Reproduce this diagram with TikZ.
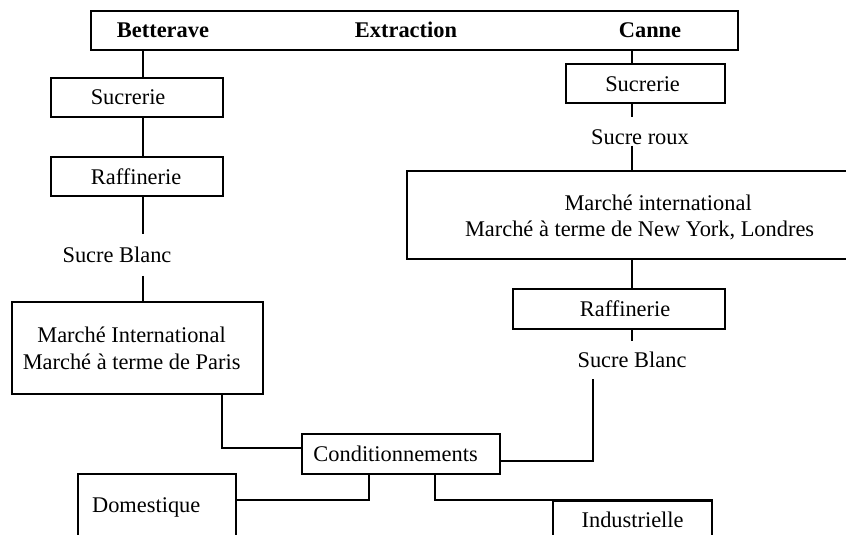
\documentclass[tikz,border=0pt]{standalone}
\usepackage{fontspec}
\setmainfont{Liberation Serif}
\newcommand\fsz{\fontsize{22.4}{27}\selectfont}
\begin{document}
\begin{tikzpicture}[x=1pt,y=-1pt,line width=2.2pt,
  box/.style={draw,line width=2.2pt,rectangle,inner sep=0pt,anchor=north west,font=\fsz},
  txt/.style={inner sep=0pt,font=\fsz},
  hdr/.style={inner sep=0pt,font=\fsz\bfseries}]
\useasboundingbox (0,0) rectangle (846,535);
\clip (0,0) rectangle (846,535);
% axes
\coordinate (axL) at (143,0);
\coordinate (axR) at (632,0);
\coordinate (axM) at (222,0);
\coordinate (axS) at (593,0);
\coordinate (axA) at (369,0);
\coordinate (axB) at (435,0);
% top bar
\node[box,minimum width=647,minimum height=39] (top) at (90,10) {};
\node[hdr] (bet) at (163,30) {Betterave};
\node[hdr] (ext) at (406,30) {Extraction};
\node[hdr] (can) at (650,30) {Canne};
% left column
\node[box,minimum width=172,minimum height=39,label={[txt,xshift=-9pt]center:Sucrerie}] (sucL) at (50,77) {};
\node[box,minimum width=172,minimum height=39,label={[txt,xshift=-1pt]center:Raffinerie}] (rafL) at (50,156) {};
\node[txt,inner ysep=12pt] (sbL) at (117,255) {Sucre Blanc};
\node[box,minimum width=251,minimum height=92,label={[txt,align=center,xshift=-6pt]center:Marché International\\Marché à terme de Paris}] (marL) at (11,301) {};
% right column
\node[box,minimum width=159,minimum height=39,label={[txt,xshift=-3pt,yshift=-1pt]center:Sucrerie}] (sucR) at (565,63) {};
\node[txt] (sroux) at (640,137) {Sucre roux};
\node[box,minimum width=494,minimum height=88,
  label={[txt,xshift=4pt,yshift=12pt]center:Marché international},
  label={[txt,xshift=-14.5pt,yshift=-15pt]center:Marché à terme de New York, Londres}] (marR) at (406,170) {};
\node[box,minimum width=212,minimum height=40,label={[txt,xshift=6pt]center:Raffinerie}] (rafR) at (512,288) {};
\node[txt,inner ysep=10.5pt] (sbR) at (632,360) {Sucre Blanc};
% bottom
\node[box,minimum width=198,minimum height=40,label={[txt,xshift=-5.5pt]center:Conditionnements}] (cond) at (301,433) {};
\node[box,minimum width=158,minimum height=127,label={[txt,anchor=west,xshift=14pt,yshift=-34pt]north west:Domestique}] (dom) at (77,473) {};
\node[box,minimum width=159,minimum height=100,label={[txt,anchor=center,yshift=-20pt]north:Industrielle}] (ind) at (552,500) {};
% helper coordinates
\coordinate (srtop) at ([yshift=11.5pt]sroux.north);
\coordinate (condin) at ([yshift=6pt]cond.west);
\coordinate (condout) at ([yshift=-7pt]cond.east);
\coordinate (domin) at ([yshift=-27pt]dom.north east);
% connectors left
\draw (top.south -| axL) -- (sucL.north -| axL);
\draw (sucL.south -| axL) -- (rafL.north -| axL);
\draw (rafL.south -| axL) -- (sbL.north -| axL);
\draw (sbL.south -| axL) -- (marL.north -| axL);
\draw (marL.south -| axM) |- (condin);
% connectors right
\draw (top.south -| axR) -- (sucR.north -| axR);
\draw (sucR.south -| axR) -- (srtop -| axR);
\draw (sroux.south -| axR) -- (marR.north -| axR);
\draw (marR.south -| axR) -- (rafR.north -| axR);
\draw (rafR.south -| axR) -- (sbR.north -| axR);
\draw (condout) -| (sbR.south -| axS);
% bottom
\draw (cond.south -| axA) |- (domin);
\draw (cond.south -| axB) |- (ind.north east);
\end{tikzpicture}
\end{document}
